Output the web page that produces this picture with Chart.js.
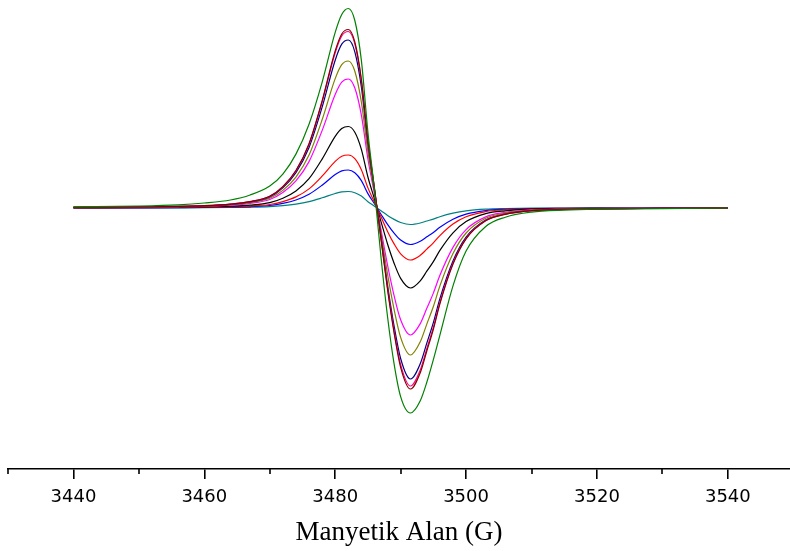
<!DOCTYPE html>
<html>
<head>
<meta charset="utf-8">
<script src="https://cdn.jsdelivr.net/npm/chart.js@4.4.1/dist/chart.umd.min.js"></script>
<style>
  body { margin: 0; background: #fff; }
  #spectrum { display: block; }
</style>
</head>
<body>
<canvas id="spectrum" width="790" height="551"></canvas>
<script>
// Magnetic field (G) sample positions, shared by every trace
var field = [3440, 3450, 3456, 3460, 3464, 3467, 3470, 3472, 3474, 3476, 3478, 3480, 3481, 3482, 3483, 3484, 3485, 3486,
             3487, 3488, 3489, 3490, 3491.5, 3493, 3494, 3495, 3496, 3498, 3500, 3503, 3506, 3510, 3515, 3520, 3530, 3540];

var majorTicks = [3440, 3460, 3480, 3500, 3520, 3540];
var minorTicks = [3430, 3450, 3470, 3490, 3510, 3530];

// Signal intensity (arb. units)
var greenTrace = [1.2, 2.0, 3.2, 5.0, 8.0, 13.0, 21.9, 33.9, 53.9, 83.8, 125.7, 175.6, 193.5, 199.5, 187.5, 147.6, 75.8, 18.0,
                  -49.2, -108.7, -155.8, -188.6, -205, -192.7, -174.3, -151.7, -127.1, -77.9, -43.1, -18.5, -9.2, -4.1, -2.1, -1.2, -0.6, 0];
var wineTrace = [0.7, 1.1, 1.6, 2.3, 3.9, 6.4, 11.8, 21.4, 37.5, 64.3, 107.1, 157.1, 174.0, 178.5, 166.0, 128.5, 67.8, 19.6,
                 -30.8, -81.5, -124.9, -159.3, -181, -164.7, -143.0, -121.3, -95.9, -56.1, -30.8, -12.7, -6.3, -2.7, -1.4, -0.9, -0.4, 0];
var pinkTrace = [0.7, 1.1, 1.6, 2.3, 3.9, 6.4, 11.6, 21.2, 37.1, 63.5, 105.9, 155.3, 172.1, 176.5, 164.1, 127.1, 67.1, 19.4,
                 -30.3, -80.1, -122.8, -156.6, -178, -162.0, -140.6, -119.3, -94.3, -55.2, -30.3, -12.5, -6.2, -2.7, -1.4, -0.9, -0.4, 0];
var navyTrace = [0.7, 1.0, 1.5, 2.2, 3.7, 6.0, 11.1, 20.2, 35.3, 60.5, 100.8, 147.8, 163.8, 168, 156.2, 121.0, 63.8, 18.5,
                 -29.1, -77.0, -118.0, -150.5, -171, -155.6, -135.1, -114.6, -90.6, -53.0, -29.1, -12.0, -6.0, -2.6, -1.4, -0.9, -0.3, 0];
var oliveTrace = [0.6, 0.9, 1.3, 1.9, 3.2, 5.3, 9.7, 17.6, 30.9, 52.9, 88.2, 129.4, 143.3, 147, 136.7, 105.8, 55.9, 16.2,
                  -25.0, -66.2, -101.4, -129.4, -147, -133.8, -116.1, -98.5, -77.9, -45.6, -25.0, -10.3, -5.1, -2.2, -1.2, -0.7, -0.3, 0];
var magentaTrace = [0.5, 0.8, 1.2, 1.7, 2.8, 4.6, 8.5, 15.5, 27.1, 46.4, 77.4, 113.5, 125.8, 129, 120.0, 92.9, 49.0, 14.2,
                    -21.6, -57.2, -87.6, -111.8, -127, -115.6, -100.3, -85.1, -67.3, -39.4, -21.6, -8.9, -4.4, -1.9, -1.0, -0.6, -0.3, 0];
var blackTrace = [0.3, 0.5, 0.7, 1.1, 1.8, 2.9, 5.4, 9.8, 17.1, 29.3, 48.9, 71.7, 79.5, 81.5, 75.8, 58.7, 31.0, 9.0,
                  -13.6, -36.0, -55.2, -70.4, -80, -72.8, -63.2, -53.6, -42.4, -24.8, -13.6, -5.6, -2.8, -1.2, -0.6, -0.4, -0.2, 0];
var redTrace = [0.2, 0.3, 0.5, 0.7, 1.2, 1.9, 3.5, 6.4, 11.1, 19.1, 31.8, 46.6, 51.7, 53, 49.3, 38.2, 20.1, 5.8,
                -8.8, -23.4, -35.9, -45.8, -52, -47.3, -41.1, -34.8, -27.6, -16.1, -8.8, -3.6, -1.8, -0.8, -0.4, -0.3, -0.1, 0];
var blueTrace = [0.2, 0.2, 0.3, 0.5, 0.8, 1.4, 2.5, 4.6, 8.0, 13.7, 22.8, 33.4, 37.1, 38, 35.3, 27.4, 14.4, 4.2,
                 -6.2, -16.4, -25.2, -32.1, -36.5, -33.2, -28.8, -24.5, -19.3, -11.3, -6.2, -2.6, -1.3, -0.5, -0.3, -0.2, -0.1, 0];
var cyanTrace = [0.1, 0.1, 0.2, 0.3, 0.5, 0.7, 1.3, 2.3, 3.9, 6.4, 10.2, 14.5, 16.1, 16.5, 15.3, 11.9, 6.3, 1.8,
                 -2.8, -7.4, -11.4, -14.5, -16.5, -15.0, -13.0, -11.1, -8.7, -5.1, -2.8, -1.2, -0.6, -0.2, -0.1, -0.1, 0, 0];

var traces = [greenTrace, wineTrace, pinkTrace, navyTrace, oliveTrace, magentaTrace, blackTrace, redTrace, blueTrace, cyanTrace];
var traceColors = ['#008000', '#800000', '#FF0080', '#000080', '#808000', '#FF00FF', '#000000', '#FF0000', '#0000FF', '#008080'];

var datasets = traces.map(function (trace, i) {
    return {
        data: trace.map(function (v, j) { return {x: field[j], y: v}; }),
        borderColor: traceColors[i],
        borderWidth: 1.2,
        pointRadius: 0,
        fill: false,
        cubicInterpolationMode: 'monotone'
    };
});

// Short unlabeled ticks between the labeled ones
var minorTickPlugin = {
    id: 'minorTicks',
    afterDraw: function (chart) {
        var xs = chart.scales.x;
        var ctx = chart.ctx;
        ctx.save();
        ctx.strokeStyle = '#000';
        ctx.lineWidth = 1.6;
        minorTicks.forEach(function (v) {
            var px = Math.round(xs.getPixelForValue(v));
            ctx.beginPath();
            ctx.moveTo(px, xs.top);
            ctx.lineTo(px, xs.top + 5);
            ctx.stroke();
        });
        ctx.restore();
    }
};

new Chart(document.getElementById('spectrum'), {
    type: 'line',
    data: { datasets: datasets },
    options: {
        responsive: false,
        animation: false,
        devicePixelRatio: 1,
        layout: { padding: { left: 8, right: 0, top: 0, bottom: 0 } },
        plugins: {
            legend: { display: false },
            tooltip: { enabled: false }
        },
        scales: {
            x: {
                type: 'linear',
                min: 3430,
                max: 3549.5,
                afterBuildTicks: function (axis) {
                    axis.ticks = majorTicks.map(function (v) { return {value: v}; });
                },
                grid: {
                    drawOnChartArea: false,
                    color: '#000',
                    lineWidth: 1.6,
                    tickLength: 10
                },
                border: { display: true, color: '#000', width: 1.6 },
                ticks: {
                    color: '#000',
                    padding: 8,
                    maxRotation: 0,
                    font: { family: 'DejaVu Sans', size: 18 },
                    callback: function (v) { return String(v); }
                },
                title: {
                    display: true,
                    text: 'Manyetik Alan (G)',
                    color: '#000',
                    font: { family: 'Liberation Serif', size: 27 },
                    padding: { top: 0, bottom: 2 }
                }
            },
            y: {
                display: false,
                min: -261,
                max: 208
            }
        }
    },
    plugins: [minorTickPlugin]
});
</script>
</body>
</html>
